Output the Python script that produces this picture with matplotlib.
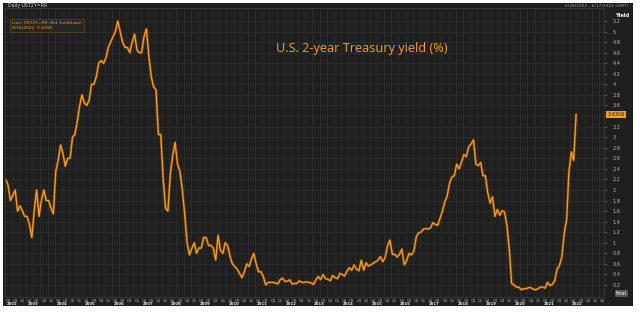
import matplotlib
matplotlib.use('Agg')
import matplotlib.pyplot as plt
import matplotlib.dates as mdates
import pandas as pd

# U.S. 2-year Treasury yield (%), monthly readings, Jul 2002 - Jun 2022
yield_2002 = [2.2, 2.1, 1.8, 1.9, 2.0, 1.6]
yield_2003 = [1.7, 1.6, 1.5, 1.5, 1.35, 1.1, 1.6, 2.0, 1.5, 1.8, 2.0, 1.8]
yield_2004 = [1.8, 1.65, 1.55, 2.35, 2.55, 2.85, 2.7, 2.45, 2.6, 2.6, 3.0, 3.05]
yield_2005 = [3.3, 3.6, 3.8, 3.65, 3.6, 3.7, 4.0, 4.0, 4.15, 4.4, 4.45, 4.4]
yield_2006 = [4.5, 4.7, 4.8, 4.9, 5.0, 5.2, 5.0, 4.8, 4.7, 4.7, 4.6, 4.8]
yield_2007 = [4.95, 4.65, 4.6, 4.6, 4.9, 5.05, 4.55, 4.15, 3.95, 3.9, 3.05, 3.05]
yield_2008 = [2.2, 1.65, 1.6, 2.3, 2.65, 2.9, 2.5, 2.35, 2.0, 1.55, 1.0, 0.77]
yield_2009 = [0.9, 1.0, 0.8, 0.9, 0.9, 1.1, 1.1, 0.95, 0.95, 0.9, 0.67, 1.14]
yield_2010 = [0.85, 0.8, 1.0, 0.95, 0.75, 0.6, 0.55, 0.5, 0.42, 0.34, 0.45, 0.6]
yield_2011 = [0.55, 0.7, 0.8, 0.6, 0.45, 0.45, 0.36, 0.2, 0.25, 0.25, 0.25, 0.24]
yield_2012 = [0.22, 0.3, 0.33, 0.27, 0.27, 0.3, 0.22, 0.23, 0.23, 0.28, 0.25, 0.25]
yield_2013 = [0.26, 0.25, 0.24, 0.21, 0.3, 0.36, 0.3, 0.4, 0.32, 0.31, 0.28, 0.38]
yield_2014 = [0.34, 0.32, 0.42, 0.4, 0.37, 0.46, 0.53, 0.48, 0.58, 0.5, 0.47, 0.67]
yield_2015 = [0.48, 0.62, 0.56, 0.58, 0.61, 0.64, 0.67, 0.74, 0.64, 0.72, 0.94, 1.05]
yield_2016 = [0.78, 0.78, 0.73, 0.78, 0.88, 0.58, 0.66, 0.8, 0.77, 0.84, 1.11, 1.19]
yield_2017 = [1.2, 1.26, 1.27, 1.26, 1.28, 1.38, 1.35, 1.33, 1.47, 1.6, 1.78, 1.89]
yield_2018 = [2.14, 2.25, 2.27, 2.49, 2.4, 2.53, 2.67, 2.63, 2.82, 2.87, 2.95, 2.49]
yield_2019 = [2.46, 2.52, 2.27, 2.27, 1.95, 1.75, 1.87, 1.5, 1.63, 1.52, 1.61, 1.58]
yield_2020 = [1.33, 0.86, 0.23, 0.2, 0.16, 0.16, 0.11, 0.13, 0.13, 0.15, 0.15, 0.12]
yield_2021 = [0.11, 0.13, 0.16, 0.16, 0.14, 0.25, 0.19, 0.21, 0.28, 0.5, 0.57, 0.73]
yield_2022 = [1.18, 1.44, 2.33, 2.72, 2.56, 3.43]

yields = (yield_2002 + yield_2003 + yield_2004 + yield_2005 + yield_2006 + yield_2007
          + yield_2008 + yield_2009 + yield_2010 + yield_2011 + yield_2012 + yield_2013
          + yield_2014 + yield_2015 + yield_2016 + yield_2017 + yield_2018 + yield_2019
          + yield_2020 + yield_2021 + yield_2022)
dates = pd.date_range('2002-07-01', periods=len(yields), freq='MS') + pd.Timedelta(days=14)

year_labels = [str(y) for y in range(2002, 2024)]
y_ticks = [round(0.2 * i, 1) for i in range(1, 27)]
last_label = '3.4306'

BG = '#1f1f1f'
ORANGE = '#f5a01e'
GRID = '#2e2e2e'
TXT = '#b8b8b8'
x0, x1 = pd.Timestamp('2002-07-08'), pd.Timestamp('2023-06-06')

fig = plt.figure(figsize=(6.4, 3.13), dpi=100, facecolor='white')

# dark panel behind everything
panel = fig.add_axes([3 / 640, 7 / 313, 630 / 640, 303 / 313])
panel.set_facecolor(BG)
panel.set_xticks([])
panel.set_yticks([])
for s in panel.spines.values():
    s.set_visible(False)

ax = fig.add_axes([5 / 640, 16 / 313, 599 / 640, 289 / 313])
ax.set_facecolor(BG)
ax.plot(dates, yields, color='#7a4506', linewidth=1.8, solid_joinstyle='round')
ax.plot(dates, yields, color=ORANGE, linewidth=0.9, solid_joinstyle='round')

ax.set_xlim(x0, x1)
ax.set_ylim(-0.027, 5.446)

# grid: quarterly vertical, 0.2 horizontal
ax.xaxis.set_major_locator(mdates.MonthLocator(bymonth=[1, 4, 7, 10]))
ax.xaxis.set_major_formatter(plt.NullFormatter())
ax.tick_params(axis='x', length=0)
ax.yaxis.tick_right()
ax.set_yticks(y_ticks)
ax.set_yticklabels(['' if t == 3.4 else f'{t:g}' for t in y_ticks], fontsize=3.6, color=TXT)
ax.tick_params(axis='y', length=2, color='#555555', pad=4)
ax.grid(True, color=GRID, linewidth=0.6)
for s in ax.spines.values():
    s.set_color('#3a3a3a')
    s.set_linewidth(0.6)

# quarter labels and year labels along the bottom
for y in range(2002, 2024):
    for q in range(4):
        d = pd.Timestamp(year=y, month=q * 3 + 2, day=15)
        if x0 < d < x1:
            ax.annotate(f'Q{q + 1}', xy=(d, 0), xycoords=('data', 'axes fraction'),
                        xytext=(0, -0.8), textcoords='offset points',
                        fontsize=2.6, color=TXT, ha='center', va='top')
for lab in year_labels:
    d = pd.Timestamp(year=int(lab), month=7, day=1)
    if int(lab) == 2002:
        d = pd.Timestamp('2002-10-01')
    if d < x1:
        ax.annotate(lab, xy=(d, 0), xycoords=('data', 'axes fraction'),
                    xytext=(0, -3.6), textcoords='offset points',
                    fontsize=2.8, color='#e0e0e0', fontweight='bold',
                    ha='center', va='top')

# last value tag on the right axis
ax.annotate(last_label, xy=(1.0, yields[-1]), xycoords=('axes fraction', 'data'),
            xytext=(2.5, 0), textcoords='offset points', fontsize=3.6, color='#1a1a1a',
            va='center', ha='left',
            bbox=dict(boxstyle='square,pad=0.25', fc=ORANGE, ec='none'))
ax.text(1.018, 0.975, 'Yield', transform=ax.transAxes, fontsize=3.6,
        color='white', ha='left', va='center', fontweight='bold')
ax.text(1.02, 0.012, 'Final', transform=ax.transAxes, fontsize=3.4,
        color='white', ha='left', va='center',
        bbox=dict(boxstyle='square,pad=0.25', fc='#555555', ec='none'))

# header texts
fig.text(8 / 640, 1 - 6 / 313, 'Daily UST2Y=RR', fontsize=3.4, color='#d0d0d0',
         va='center', ha='left')
fig.text(628 / 640, 1 - 6 / 313, '6/28/2002 - 6/17/2022 (GMT)', fontsize=3.2,
         color='#a0a0a0', va='center', ha='right')
ax.text(0.012, 0.955, 'Line; UST2Y=RR, Bid Yield(Last)\n6/16/2022, 3.4306',
        transform=ax.transAxes, fontsize=3.2, color=ORANGE, va='top', ha='left',
        linespacing=1.4,
        bbox=dict(boxstyle='square,pad=0.4', fc='#262626', ec='#6b4a1a', lw=0.5))

# title
ax.text(0.452, 0.86, 'U.S. 2-year Treasury yield (%)', transform=ax.transAxes,
        fontsize=9.2, color=ORANGE, family='Open Sans', ha='left', va='center')

fig.savefig('out.png', dpi=100, facecolor='white')
